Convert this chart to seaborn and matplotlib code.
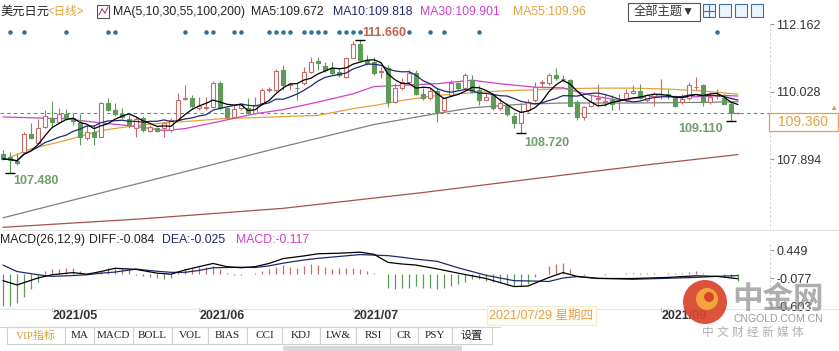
import numpy as np
import pandas as pd
import matplotlib
matplotlib.use("Agg")
import matplotlib.pyplot as plt
from matplotlib.patches import Rectangle, Circle
from matplotlib.transforms import IdentityTransform
import seaborn as sns

# ---- USD/JPY daily candles (index 0 = first candle) ----
opens = [108.06, 107.98, 107.85, 108.14, 108.69, 108.40, 108.93, 109.22, 109.09, 109.32,
         109.22, 109.04, 108.56, 108.77, 108.62, 109.67, 109.46, 109.32, 109.19, 108.88,
         109.22, 108.79, 108.90, 108.88, 108.83, 109.14, 109.81, 109.83, 109.51, 109.52,
         109.56, 110.30, 109.51, 109.25, 109.51, 109.51, 109.35, 109.67, 110.08, 110.09,
         110.72, 110.25, 110.16, 110.30, 110.67, 111.00, 110.86, 110.80, 110.67, 110.51,
         111.11, 111.53, 111.04, 110.99, 110.67, 110.78, 109.72, 110.16, 110.35, 110.62,
         109.95, 109.83, 110.06, 109.46, 109.93, 110.30, 110.14, 110.41, 110.09, 109.77,
         109.93, 109.51, 109.62, 109.28, 109.05, 109.46, 109.77, 110.30, 110.30, 110.56,
         110.44, 110.40, 109.71, 109.24, 109.60, 109.82, 109.71, 109.76, 109.76, 109.78,
         110.00, 110.06, 109.76, 109.89, 109.95, 109.97, 109.85, 109.71, 109.85, 110.18,
         110.24, 109.71, 109.91, 109.85, 109.66, 109.36]
highs = [108.19, 108.14, 108.09, 108.77, 109.06, 109.19, 109.46, 109.74, 109.51, 109.48,
         109.35, 109.32, 108.98, 108.98, 109.72, 109.83, 109.67, 109.51, 109.30, 109.28,
         109.28, 108.98, 108.93, 109.09, 109.22, 109.99, 110.25, 109.93, 109.88, 109.88,
         110.37, 110.37, 109.56, 109.62, 109.67, 109.83, 109.88, 110.14, 110.20, 110.74,
         110.88, 110.30, 110.30, 110.83, 111.14, 111.14, 110.99, 110.99, 110.78, 111.14,
         111.64, 111.66, 111.20, 111.14, 110.83, 110.88, 110.30, 110.46, 110.72, 110.72,
         110.14, 110.14, 110.14, 109.88, 110.41, 110.35, 110.62, 110.56, 110.25, 109.99,
         109.99, 109.83, 109.67, 109.32, 109.67, 109.81, 110.35, 110.41, 110.62, 110.80,
         110.55, 110.45, 109.76, 109.60, 109.97, 110.29, 109.97, 109.92, 109.97, 110.13,
         110.24, 110.29, 109.97, 110.03, 110.45, 110.13, 109.92, 109.97, 110.34, 110.50,
         110.29, 110.03, 110.13, 109.97, 109.71, 109.40]
lows = [107.88, 107.48, 107.72, 108.09, 108.56, 108.40, 108.88, 108.88, 109.07, 109.14,
        108.98, 108.35, 108.51, 108.35, 108.62, 109.43, 109.28, 109.19, 108.88, 108.62,
        108.77, 108.75, 108.75, 108.62, 108.77, 109.11, 109.77, 109.51, 109.46, 109.46,
        109.51, 109.46, 109.22, 109.22, 109.46, 109.32, 109.32, 109.62, 110.04, 110.04,
        110.09, 110.09, 109.77, 110.25, 110.62, 110.72, 110.67, 110.56, 110.51, 110.48,
        111.11, 111.01, 110.88, 110.56, 110.46, 109.56, 109.67, 110.09, 110.30, 109.93,
        109.77, 109.77, 109.07, 109.41, 109.88, 110.09, 110.09, 109.99, 109.62, 109.77,
        109.46, 109.46, 109.28, 108.90, 108.72, 109.41, 109.72, 110.14, 110.25, 110.41,
        110.34, 109.57, 109.15, 109.13, 109.55, 109.60, 109.60, 109.45, 109.45, 109.71,
        109.97, 109.82, 109.71, 109.60, 109.82, 109.82, 109.55, 109.66, 109.78, 110.08,
        109.60, 109.66, 109.82, 109.64, 109.11, 109.32]
closes = [107.91, 107.88, 107.77, 108.69, 108.58, 108.90, 109.28, 109.07, 109.32, 109.22,
          109.11, 108.62, 108.77, 108.62, 109.67, 109.46, 109.32, 109.25, 108.98, 109.19,
          108.83, 108.92, 108.79, 109.04, 109.14, 109.77, 109.83, 109.60, 109.60, 109.54,
          110.30, 109.51, 109.25, 109.48, 109.62, 109.35, 109.62, 110.09, 110.11, 110.70,
          110.25, 110.27, 110.14, 110.67, 110.99, 110.93, 110.72, 110.62, 110.56, 111.11,
          111.53, 111.04, 110.93, 110.62, 110.67, 109.72, 110.14, 110.33, 110.62, 109.95,
          109.85, 110.06, 109.41, 109.83, 110.30, 110.14, 110.56, 110.04, 109.77, 109.88,
          109.51, 109.67, 109.32, 109.04, 109.38, 109.72, 110.20, 110.33, 110.56, 110.46,
          110.45, 109.60, 109.24, 109.55, 109.71, 109.84, 109.73, 109.66, 109.77, 109.99,
          110.06, 109.85, 109.92, 109.97, 109.96, 109.89, 109.60, 109.82, 110.24, 110.19,
          109.71, 109.87, 109.92, 109.66, 109.36, 109.36]

# slower averages, sampled from the chart: (candle index, value)
ma30_idx = [0, 9, 14, 19, 23, 26, 31, 36, 40, 45, 50, 53, 57, 62, 67, 71, 76, 80, 84, 88, 93, 98, 103, 105]
ma30_val = [109.24, 109.18, 109.05, 108.94, 108.81, 108.87, 109.10, 109.34, 109.47, 109.71, 109.97, 110.20,
            110.24, 110.29, 110.40, 110.29, 110.18, 110.16, 109.92, 109.76, 109.90, 109.87, 109.92, 109.90]
ma55_idx = [1, 4, 9, 14, 19, 23, 27, 31, 36, 40, 45, 50, 53, 57, 62, 67, 71, 76, 80, 85, 90, 95, 100, 105]
ma55_val = [107.97, 108.23, 108.50, 108.81, 108.97, 109.05, 109.11, 109.18, 109.22, 109.25, 109.29, 109.50,
            109.60, 109.76, 109.92, 110.00, 110.06, 110.10, 110.13, 110.15, 110.15, 110.12, 110.06, 109.96]
ma100_idx = [0, 13, 26, 40, 53, 62, 67, 74, 80, 90, 100, 105]
ma100_val = [106.05, 106.78, 107.51, 108.30, 109.00, 109.35, 109.53, 109.64, 109.68, 109.68, 109.70, 109.72]
ma200_idx = [0, 20, 40, 60, 80, 93, 105]
ma200_val = [105.75, 106.02, 106.35, 106.85, 107.40, 107.75, 108.05]

# MACD histogram per candle, DIFF / DEA sampled
macd_hist = [-0.59, -0.59, -0.53, -0.43, -0.28, -0.15, 0.06, 0.09, 0.09, 0.11,
             0.11, 0.06, 0.03, 0.01, 0.06, 0.12, 0.14, 0.12, 0.09, -0.01,
             -0.03, -0.06, -0.07, -0.09, -0.07, 0.06, 0.09, 0.12, 0.14, 0.14,
             0.15, 0.09, 0.03, -0.02, -0.02, 0.01, 0.03, 0.06, 0.09, 0.14,
             0.17, 0.14, 0.12, 0.15, 0.19, 0.17, 0.14, 0.09, 0.12, 0.11,
             0.12, 0.09, 0.06, 0.03, 0.01, -0.25, -0.28, -0.25, -0.25, -0.22,
             -0.25, -0.26, -0.28, -0.25, -0.22, -0.19, -0.14, -0.09, -0.09, -0.12,
             -0.15, -0.17, -0.20, -0.22, -0.22, -0.19, -0.06, 0.01, 0.15, 0.19,
             0.20, 0.09, 0.01, -0.02, 0.0, 0.0, -0.01, 0.0, 0.01, 0.02,
             0.03, 0.03, 0.03, 0.02, 0.01, 0.03, 0.03, 0.03, 0.05, 0.06,
             0.03, 0.01, 0.0, -0.03, -0.07, -0.117]
macd_idx = [0, 2, 5, 7, 10, 12, 14, 16, 19, 22, 24, 26, 28, 30, 32, 34, 36, 38, 40, 43,
            45, 48, 51, 53, 55, 57, 59, 62, 65, 69, 73, 75, 78, 80, 82, 85, 90, 95, 99, 102, 105]
diff_val = [-0.12, -0.20, -0.07, -0.01, 0.03, 0.0, 0.05, 0.11, 0.09, 0.02, 0.0, 0.08, 0.14, 0.20, 0.14,
            0.12, 0.14, 0.20, 0.29, 0.34, 0.38, 0.39, 0.41, 0.37, 0.22, 0.19, 0.17, 0.10, 0.02, -0.08,
            -0.23, -0.22, -0.06, 0.03, -0.04, -0.08, -0.08, -0.06, -0.03, -0.04, -0.084]
dea_val = [0.17, 0.05, -0.01, -0.04, -0.025, -0.01, 0.02, 0.04, 0.095, 0.055, 0.035, 0.035, 0.07, 0.12, 0.125,
           0.13, 0.125, 0.155, 0.205, 0.265, 0.295, 0.33, 0.365, 0.355, 0.345, 0.315, 0.28, 0.24, 0.12, -0.02,
           -0.12, -0.125, -0.135, -0.07, -0.045, -0.075, -0.095, -0.075, -0.06, -0.04, -0.025]

event_dots = [1, 3, 9, 15, 16, 26, 29, 30, 33, 34, 38, 39, 40, 41, 43, 44, 45, 46, 48, 49, 50, 51,
              58, 61, 63, 68, 102]
price_ticks = [112.162, 110.028, 107.894]
macd_ticks = [0.449, -0.077, -0.603]
last_price = 109.360
# 2021/08 sits under the crosshair date tag in the reference, so it is not drawn
month_idx = [7, 28, 50, 94]
month_lbl = ["2021/05", "2021/06", "2021/07", "2021/09"]
tool_lbl = ["VIP指标", "MA", "MACD", "BOLL", "VOL", "BIAS", "CCI", "KDJ", "LW&", "RSI", "CR", "PSY", "设置"]
tool_edges = [7, 65, 94, 133, 172, 208, 247, 282, 320, 356, 390, 418, 452, 492]

UP, DN = "#c46c68", "#5e9a58"
C_MA10, C_MA30, C_MA55 = "#1f2a6e", "#d23fc8", "#e3a23b"
C_MA100, C_MA200 = "#808080", "#a5524a"

sns.set_style("white")
plt.rcParams["font.family"] = ["Liberation Sans", "Noto Sans CJK SC", "DejaVu Sans"]

W, H = 839, 351
fig = plt.figure(figsize=(W / 100, H / 100), dpi=100)
PX = IdentityTransform()


def ftxt(x, y, s, **kw):
    kw.setdefault("va", "center")
    fig.text(x / W, 1 - y / H, s, **kw)


def frect(x0, y0, x1, y1, **kw):
    fig.add_artist(Rectangle((x0, H - y1), x1 - x0, y1 - y0, transform=PX, **kw))


def fline(x0, y0, x1, y1, **kw):
    fig.add_artist(plt.Line2D([x0, x1], [H - y0, H - y1], transform=PX, **kw))


ax = fig.add_axes([0, 1 - 230 / H, 770 / W, 208 / H])
axm = fig.add_axes([0, 1 - 308 / H, 770 / W, 63 / H])

df = pd.DataFrame({"i": np.arange(len(closes)), "open": opens, "high": highs,
                   "low": lows, "close": closes})
df["up"] = df["close"] >= df["open"]
df["ma5"] = df["close"].rolling(5, min_periods=1).mean()
df["ma10"] = df["close"].rolling(10, min_periods=1).mean()

# ---- price panel ----
ax.axhline(last_price, color="#4c8aa6", lw=0.8, ls=(0, (3, 3)), zorder=1)
sns.lineplot(x=ma200_idx, y=ma200_val, ax=ax, color=C_MA200, lw=0.9, zorder=2)
sns.lineplot(x=ma100_idx, y=ma100_val, ax=ax, color=C_MA100, lw=0.9, zorder=2)
sns.lineplot(x=ma55_idx, y=ma55_val, ax=ax, color=C_MA55, lw=0.9, zorder=2)
sns.lineplot(x=ma30_idx, y=ma30_val, ax=ax, color=C_MA30, lw=0.9, zorder=2)

cols = np.where(df["up"], UP, DN)
ax.vlines(df["i"], df["low"], df["high"], colors=cols, lw=0.8, zorder=3)
body_lo = np.minimum(df["open"], df["close"])
body_h = np.maximum((df["close"] - df["open"]).abs(), 0.012)
ax.bar(df["i"], body_h, bottom=body_lo, width=0.7,
       color=np.where(df["up"], "white", DN), edgecolor=cols, lw=0.8, zorder=4)

sns.lineplot(data=df, x="i", y="ma10", ax=ax, color=C_MA10, lw=0.9, zorder=5)
sns.lineplot(data=df, x="i", y="ma5", ax=ax, color="black", lw=0.9, zorder=5)

# extreme markers and labels
hi_i = int(np.argmax(highs))
ax.plot(hi_i, highs[hi_i], marker="_", ms=7, mew=1, color="black", zorder=6)
ax.annotate(f"{highs[hi_i]:.3f}", xy=(hi_i, highs[hi_i]), xytext=(24, 7), textcoords="offset pixels",
            ha="center", va="center", color="#c0604c", fontsize=9, fontweight="bold", zorder=7)
for li, dx, dy in [(1, 26, -8), (74, 26, -10), (104, -30, -8)]:
    ax.plot(li, lows[li], marker="_", ms=7, mew=1, color="black", zorder=6)
    ax.annotate(f"{lows[li]:.3f}", xy=(li, lows[li]), xytext=(dx, dy), textcoords="offset pixels",
                ha="center", va="center", color="#6f9f68", fontsize=9, fontweight="bold", zorder=7)

ax.scatter(event_dots, [0.952] * len(event_dots), transform=ax.get_xaxis_transform(),
           s=5, color="#2f7396", zorder=6, clip_on=False)

for a in (ax, axm):
    a.set_xlim(-3 / 7, 767 / 7)
    a.set_xlabel("")
    a.set_ylabel("")
    a.set_xticks([])
    a.yaxis.tick_right()
    for s in ("top", "left", "bottom"):
        a.spines[s].set_visible(False)
    a.spines["right"].set_linestyle((0, (1, 3)))
    a.spines["right"].set_color("#d0d0d0")
    a.tick_params(axis="y", length=3, width=0.8, colors="#999999", labelcolor="#333333",
                  labelsize=9, pad=1.5)

ax.set_ylim(105.665, 112.241)
ax.set_yticks(price_ticks)
ax.set_yticklabels([f"{v:.3f}" for v in price_ticks])

# ---- MACD panel ----
axm.vlines(np.arange(len(macd_hist)), 0, macd_hist,
           colors=[UP if v >= 0 else DN for v in macd_hist], lw=0.9, zorder=2)
sns.lineplot(x=macd_idx, y=dea_val, ax=axm, color=C_MA10, lw=0.9, zorder=3)
sns.lineplot(x=macd_idx, y=diff_val, ax=axm, color="black", lw=0.9, zorder=3)
axm.set_ylim(-0.628, 0.543)
axm.set_yticks(macd_ticks)
axm.set_yticklabels([f"{v:.3f}" for v in macd_ticks])
axm.set_xlabel("")
axm.set_ylabel("")

# month labels under the MACD panel
for mi, lbl in zip(month_idx, month_lbl):
    axm.text(mi + 0.15, -0.12, lbl, transform=axm.get_xaxis_transform(), ha="left", va="center",
             fontsize=9, fontweight="bold", color="#333333", clip_on=False)
    axm.plot([mi, mi], [0, -0.05], transform=axm.get_xaxis_transform(), color="#bbbbbb",
             lw=0.8, clip_on=False)

# ---- frame lines ----
fline(0, 229.5, W, 229.5, color="#e4e4e4", lw=0.8)
fline(0, 308.5, W, 308.5, color="#e4e4e4", lw=0.8)

# ---- header ----
ftxt(0, 12, "美元日元", fontsize=8.8, color="#222222")
ftxt(47, 12, "<日线>", fontsize=8.3, color="#e3a23b")
frect(97, 5, 109, 18, fc="white", ec="#555555", lw=0.8)
fline(99, 15, 102, 9, color="#b04090", lw=0.8)
fline(102, 9, 105, 13, color="#b04090", lw=0.8)
fline(105, 13, 108, 7, color="#b04090", lw=0.8)
ftxt(113, 12, "MA(5,10,30,55,100,200)", fontsize=8.8, color="#222222")
ftxt(251, 12, "MA5:109.672", fontsize=8.8, color="#222222")
ftxt(333, 12, "MA10:109.818", fontsize=8.8, color=C_MA10)
ftxt(420, 12, "MA30:109.901", fontsize=8.8, color=C_MA30)
ftxt(513, 12, "MA55:109.96", fontsize=8.8, color=C_MA55)
frect(628, 3, 700, 21, fc="white", ec="#555555", lw=0.8)
ftxt(664, 12, "全部主题▼", fontsize=8.8, color="#333333", ha="center")
for x0 in (703, 719, 735, 751):
    frect(x0, 4, x0 + 12, 17, fc="#eef4fc", ec="#3a6db5", lw=0.8)
fline(704, 10.5, 714, 10.5, color="#3a6db5", lw=0.8)
fline(709, 5, 709, 16, color="#3a6db5", lw=0.8)

# ---- MACD title ----
ftxt(0, 240, "MACD(26,12,9)", fontsize=8.8, color="#222222")
ftxt(89, 240, "DIFF:-0.084", fontsize=8.8, color="#222222")
ftxt(162, 240, "DEA:-0.025", fontsize=8.8, color=C_MA10)
ftxt(236, 240, "MACD:-0.117", fontsize=8.8, color=C_MA30)

# ---- last price box ----
frect(769, 113, 838, 131, fc="white", ec="#e3a23b", lw=0.9)
ftxt(803, 122.5, f"{last_price:.3f}", fontsize=10, color="#e3a23b", ha="center")
ftxt(833, 108, "▲", fontsize=6, color="#e3a23b", ha="center")

# ---- crosshair date tag ----
frect(487, 306, 596, 325, fc="#fffdf3", ec="#f4ead0", lw=0.8, zorder=5)
ftxt(541, 316, "2021/07/29 星期四", fontsize=9, color="#e0a050", ha="center", zorder=6)

# ---- toolbar ----
fline(0, 326.5, 500, 326.5, color="#d0d0d0", lw=0.8)
for k, lbl in enumerate(tool_lbl):
    x0, x1 = tool_edges[k], tool_edges[k + 1]
    frect(x0, 327, x1, 344, fc="white", ec="#cfcfcf", lw=0.8)
    ftxt((x0 + x1) / 2, 335.5, lbl, fontsize=8, ha="center",
         color="#d4a23c" if k == 0 else "#222222",
         family=["Liberation Serif", "Noto Sans CJK SC"])
frect(283, 346, 462, 351, fc="#d8d8d8", ec="none")

# ---- watermark (semi-transparent, lies over the axis labels like the original) ----
fig.add_artist(Circle((705, H - 302), 22, transform=PX, fc="#d8432c", ec="none", alpha=0.92, zorder=8))
fig.add_artist(Circle((707, H - 299), 11, transform=PX, fc="#f3a43a", ec="none", zorder=8))
fig.add_artist(Circle((709, H - 297), 5, transform=PX, fc="#d8432c", ec="none", zorder=8))
ftxt(778, 300, "中金网", fontsize=22, fontweight="bold", color="#8c8c8c", ha="center", alpha=0.7, zorder=8)
ftxt(778, 319, "CNGOLD.COM.CN", fontsize=7.5, color="#9a9a9a", ha="center", zorder=8)
ftxt(753, 333, "中 文 财 经 新 媒 体", fontsize=8.5, color="#b0b0b0", ha="center", zorder=8)

fig.savefig("out.png", dpi=100, facecolor="white")
